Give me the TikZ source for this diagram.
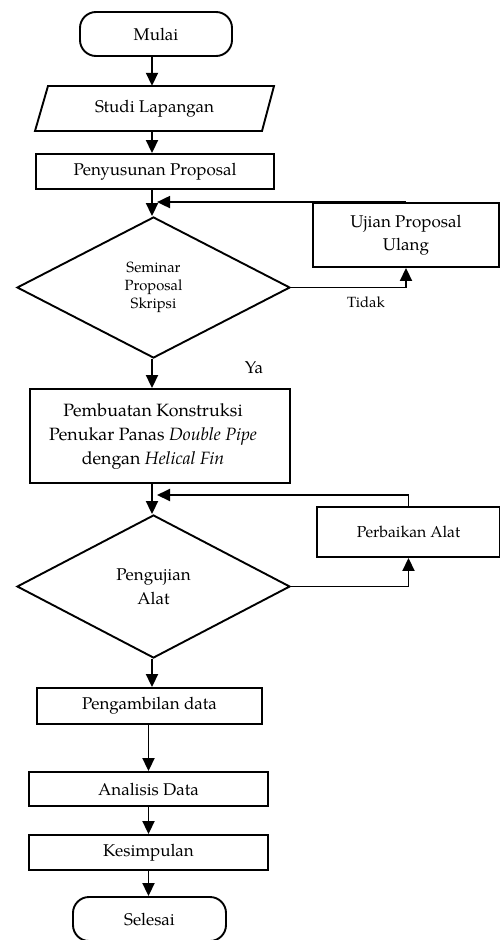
\documentclass[tikz,border=0pt]{standalone}
\usepackage{fontspec}
\setmainfont{texgyrepagella}[Extension=.otf,UprightFont=*-regular,ItalicFont=*-italic,BoldFont=*-bold,BoldItalicFont=*-bolditalic]
\usetikzlibrary{arrows.meta,shapes.geometric,calc}
\newcommand\mainsz{\fontsize{17}{23.5}\selectfont}
\newcommand\bigsz{\fontsize{17.8}{23.6}\selectfont}
\newcommand\smallsz{\fontsize{14.8}{18}\selectfont}
\newcommand\midsz{\fontsize{15.8}{20}\selectfont}
\begin{document}
\begin{tikzpicture}[x=1pt,y=-1pt,
  every node/.style={font=\mainsz},
  box/.style={draw, line width=1.9pt, inner sep=0pt, align=center},
  arr/.style={line width=1.9pt, -{Triangle[length=13pt,width=12pt]}},
  ln/.style={line width=1.9pt, line join=miter}]
\useasboundingbox (0,0) rectangle (500,940);
\coordinate (ax) at (152,0);
% start
\node[box, rounded corners=16pt, minimum width=152pt, minimum height=44pt] (mulai) at (156,34) {Mulai};
% parallelogram
\node[inner sep=0pt, minimum width=227pt, minimum height=45pt] (studi) at (154.5,108.5) {Studi Lapangan};
\draw[ln] (48,86) -- (274,86) -- (262,131) -- (35,131) -- cycle;
\node[box, minimum width=238pt, minimum height=35pt] (prop) at (155,171.5) {Penyusunan Proposal};
\node[box, diamond, minimum width=273pt, minimum height=141pt, font=\smallsz] (sem) at (153.5,287.5) {Seminar\\Proposal\\Skripsi};
\node[box, minimum width=186pt, minimum height=64pt] (ujian) at (406,235) {Ujian Proposal\\Ulang};
\node[font=\smallsz] (tidak) at (366,302) {Tidak};
\node (ya) at (254,368) {Ya};
\node[box, minimum width=260pt, minimum height=94pt] (pemb) at (160,436) {};
\node[align=center, font=\bigsz] (pembtxt) at (153,436.5) {Pembuatan Konstruksi\\Penukar Panas \textit{Double Pipe}\\dengan \textit{Helical Fin}};
\node[box, diamond, minimum width=273pt, minimum height=143pt] (uji) at (153.5,586.5) {Pengujian\\Alat};
\node[box, minimum width=183pt, minimum height=50pt, font=\midsz] (perb) at (408.5,532) {Perbaikan Alat};
\node[box, minimum width=225pt, minimum height=36pt] (ambil) at (149.5,706) {Pengambilan data};
\node[box, minimum width=239pt, minimum height=34pt] (anal) at (148.5,789) {Analisis Data};
\node[box, minimum width=239pt, minimum height=35pt] (kes) at (148.5,852.5) {Kesimpulan};
\node[box, rounded corners=16pt, minimum width=153pt, minimum height=44pt] (sel) at (149.5,919) {Selesai};
\coordinate (fb1) at ($(ujian.north -| ax)+(5,0)$);
\coordinate (fb2) at (157,495);
% connectors
\draw[arr] (mulai.south -| ax) -- (studi.north -| ax);
\draw[arr] (studi.south -| ax) -- (prop.north -| ax);
\draw[arr] (prop.south -| ax) -- (sem.north -| ax);
\draw[arr] (ujian.north) -- (fb1);
\draw[arr] (sem.east) -| (ujian.south);
\draw[arr] (sem.south -| ax) -- (pemb.north -| ax);
\draw[arr] (pemb.south -| ax) -- (uji.north -| ax);
\draw[arr] (perb.north) |- (fb2);
\draw[arr] (uji.east) -| (perb.south);
\draw[arr] (uji.south -| ax) -- (ambil.north -| ax);
\draw[arr] (ambil.south -| anal.north) -- (anal.north);
\draw[arr] (anal.south) -- (kes.north);
\draw[arr] (kes.south) -- (kes.south |- sel.north);
\end{tikzpicture}
\end{document}
